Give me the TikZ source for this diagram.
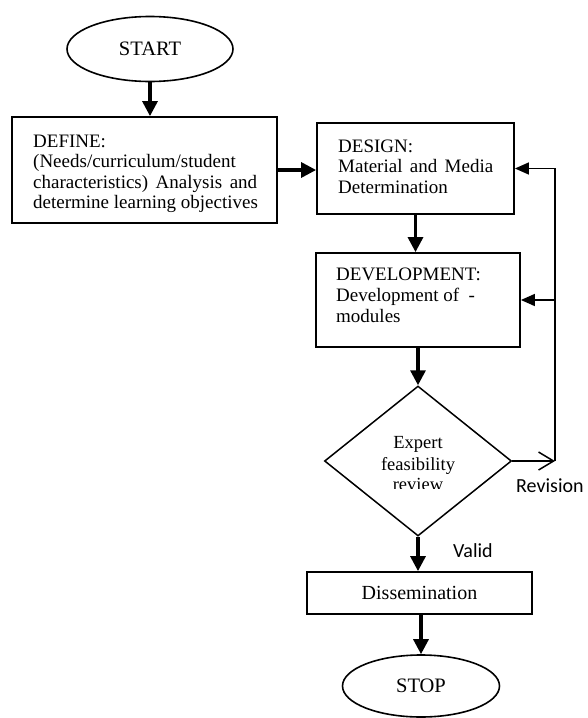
\documentclass[tikz,border=0pt]{standalone}
\usepackage{fontspec}
\setmainfont{Liberation Serif}
\newfontfamily\calib{Carlito}
\usetikzlibrary{shapes.geometric,arrows.meta}
\begin{document}
\begin{tikzpicture}[x=1pt,y=-1pt,
  boxst/.style={draw,line width=1.8pt,inner sep=0pt,rectangle},
  ellst/.style={draw,line width=1.6pt,inner sep=0pt,ellipse},
  txt/.style={inner sep=0pt,align=left,font=\fontsize{19}{20.6}\selectfont},
  thickarrow/.style={line width=3.2pt,-{Triangle[length=15pt,width=15pt]}},
  thinarrow/.style={line width=1.5pt,-{Triangle[length=14pt,width=12pt]}},
  openarrow/.style={line width=1.5pt,-{Straight Barb[length=15pt,width=18pt,line width=1.5pt]}},
  lbl/.style={inner sep=0pt,font=\calib\fontsize{20}{24}\selectfont}]
\useasboundingbox (0,0) rectangle (587,718);

% nodes
\node[ellst,minimum width=166pt,minimum height=65pt] (start) at (150,49)
  {\fontsize{20.5}{24}\selectfont START};
\node[boxst,minimum width=265pt,minimum height=106pt] (define) at (144.5,170) {};
\node[txt,anchor=north west] (definet) at (33,134.4)
  {DEFINE:\\(Needs/curriculum/student\\\makebox[224pt][s]{characteristics) Analysis and}\\determine learning objectives};
\node[boxst,minimum width=197pt,minimum height=91pt] (design) at (415.5,168.5) {};
\node[txt,anchor=north west] (designt) at (338,139.4)
  {DESIGN:\\\makebox[155pt][s]{Material and Media}\\Determination};
\node[boxst,minimum width=204pt,minimum height=94pt] (devel) at (418,300) {};
\node[txt,anchor=north west,font=\fontsize{19}{21}\selectfont] (develt) at (336,267.4)
  {DEVELOPMENT:\\Development of\ \ -\\modules};
\node[diamond,draw,line width=1.5pt,inner sep=0pt,minimum width=187pt,minimum height=150pt] (review) at (418,461) {};
\node[inner sep=0pt,anchor=base,font=\fontsize{18.5}{22}\selectfont] (rv1) at (418,448) {Expert};
\node[inner sep=0pt,anchor=base,font=\fontsize{18.5}{22}\selectfont] (rv2) at (418,470) {feasibility};
\begin{scope}
  \clip (370,476) rectangle (470,488.3);
  \node[inner sep=0pt,anchor=base,font=\fontsize{18.5}{22}\selectfont] (rv3) at (418,490.5) {review};
\end{scope}
\node[boxst,minimum width=225pt,minimum height=42pt] (dissem) at (419.5,593)
  {\fontsize{20}{24}\selectfont Dissemination};
\node[ellst,minimum width=157pt,minimum height=62pt] (stop) at (421,686)
  {\fontsize{20.5}{24}\selectfont STOP};

\coordinate (rvc) at (555,461);
\node[lbl,anchor=base west] (revlbl) at (516,492) {Revision};
\node[lbl,anchor=base west] (validlbl) at (453,557) {Valid};

% connectors
\draw[thickarrow] (start.south) -- (start.south |- define.north);
\draw[thickarrow] (define.east) -- (define.east -| design.west);
\draw[thickarrow] (design.south) -- (design.south |- devel.north);
\draw[thickarrow] (devel.south -| review.north) -- (review.north);
\draw[thickarrow] (review.south) -- (review.south |- dissem.north);
\draw[thickarrow] (dissem.south -| stop.north) -- (stop.north);
\draw[openarrow] (review.east) -- (rvc);
\draw[thinarrow] (rvc) -- (rvc |- design.east) -- (design.east);
\draw[thinarrow] (rvc |- devel.east) -- (devel.east);
\end{tikzpicture}
\end{document}
